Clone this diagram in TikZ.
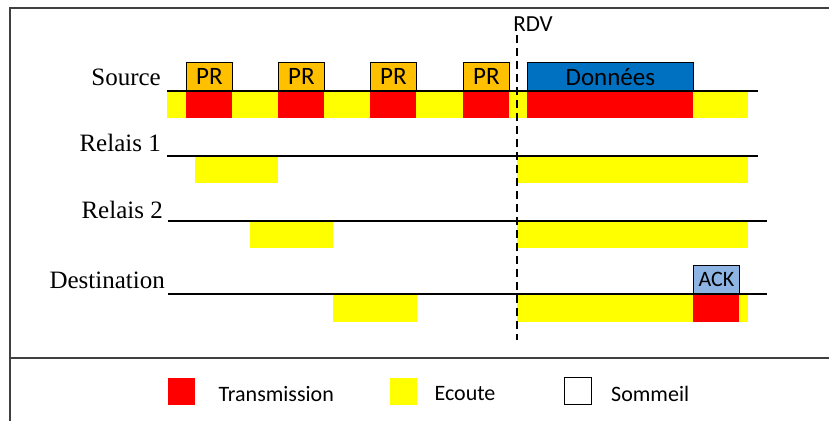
\documentclass[tikz,border=0pt]{standalone}
\usepackage{fontspec}
\setmainfont{Liberation Serif}
\newfontfamily\calib{Carlito}
\usepackage{xcolor}
\usetikzlibrary{positioning}
\definecolor{ecoute}{HTML}{FFFF00}
\definecolor{trans}{HTML}{FF0000}
\definecolor{pr}{HTML}{FFC000}
\definecolor{donnees}{HTML}{0070C0}
\definecolor{ack}{HTML}{8EB4E3}

\begin{document}
\begin{tikzpicture}[x=1pt,y=-1pt,
    lbl/.style={anchor=east,inner sep=0pt,font=\fontsize{25}{28}\selectfont},
    pkt/.style={draw,line width=0.8pt,anchor=south west,inner sep=0pt,minimum height=28pt,font=\calib\fontsize{25}{28}\selectfont},
    tline/.style={line width=2pt},
    legsq/.style={anchor=west,inner sep=0pt,minimum width=27pt,minimum height=27pt},
    legtxt/.style={inner sep=0pt,yshift=-3pt,font=\calib\fontsize{22}{24}\selectfont}]
  \useasboundingbox (0,0) rectangle (829,421);
  % cadre
  \draw[line width=1.5pt,black!75] (829,8) -- (10,8) -- (10,421);
  \draw[line width=1.5pt,black!75] (10,358) -- (829,358);
  % ecoute et transmission
  \fill[ecoute] (167,91) rectangle (748,118);
  \foreach \x in {186,278,370,463}
    \fill[trans] (\x,91) rectangle ++(46,27);
  \fill[trans] (527,91) rectangle (693,118);
  \fill[ecoute] (195,156) rectangle (278,183);
  \fill[ecoute] (517,156) rectangle (748,183);
  \fill[ecoute] (250,221) rectangle (333,248);
  \fill[ecoute] (517,221) rectangle (748,248);
  \fill[ecoute] (333,294) rectangle (417,322);
  \fill[ecoute] (517,294) rectangle (748,322);
  \fill[trans] (693,294) rectangle (739,322);
  % noeuds
  \node[lbl] (src) at (161,77) {Source};
  \node[lbl] (rel1) at (161,143) {Relais 1};
  \node[lbl] (rel2) at (163,210) {Relais 2};
  \node[lbl] (dst) at (165,280) {Destination};
  \coordinate (src0) at (167,91);  \coordinate (src1) at (758,91);
  \coordinate (rel10) at (167,156); \coordinate (rel11) at (758,156);
  \coordinate (rel20) at (168,221); \coordinate (rel21) at (767,221);
  \coordinate (dst0) at (168,294); \coordinate (dst1) at (767,294);
  \draw[tline] (src0) -- (src1);
  \draw[tline] (rel10) -- (rel11);
  \draw[tline] (rel20) -- (rel21);
  \draw[tline] (dst0) -- (dst1);
  % paquets
  \foreach \x [count=\i] in {186,278,370,463}
    \node[pkt,fill=pr,minimum width=46pt] (pr\i) at (\x,91) {PR};
  \node[pkt,fill=donnees,minimum width=166pt] (data) at (527,91) {Données};
  \node[pkt,fill=ack,minimum width=46pt,font=\calib\fontsize{22}{24}\selectfont] (ack) at (693,294) {ACK};
  % rendez-vous
  \node[font=\calib\fontsize{23}{26}\selectfont,inner sep=0pt] (rdv) at (533,24) {RDV};
  \coordinate (rdv0) at (517,35);
  \coordinate (rdv1) at (517,340);
  \draw[line width=2pt,dash pattern=on 8pt off 5pt] (rdv0) -- (rdv1);
  % legende
  \node[legsq,fill=trans] (legtr) at (168,391) {};
  \node[legtxt,right=23pt of legtr] (legtrtxt) {Transmission};
  \node[legsq,fill=ecoute] (legec) at (390,391) {};
  \node[legtxt,right=17pt of legec] (legectxt) {Ecoute};
  \node[legsq,draw,line width=1pt] (legso) at (564,391) {};
  \node[legtxt,right=19pt of legso] (legsotxt) {Sommeil};
\end{tikzpicture}
\end{document}
